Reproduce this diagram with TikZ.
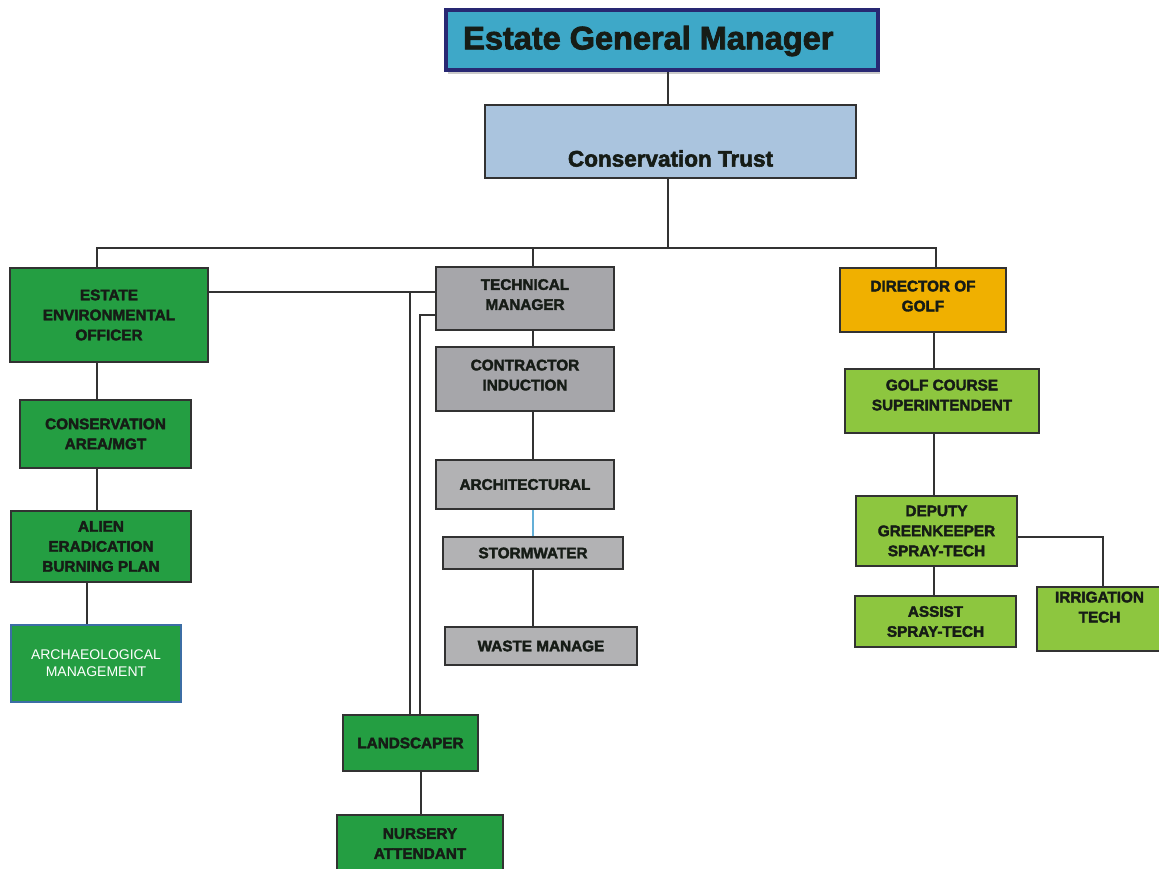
\documentclass[tikz,border=0pt]{standalone}
\usepackage{fontspec}
\setmainfont{Liberation Sans}
\newfontfamily\heavyfont{Liberation Sans}[UprightFont={* Bold}, FakeBold=2.5]
\usetikzlibrary{shadows}
\definecolor{dkgreen}{RGB}{36,158,66}
\definecolor{ltgreen}{RGB}{141,198,63}
\definecolor{midgray}{RGB}{166,166,170}
\definecolor{ltgray}{RGB}{178,178,180}
\definecolor{golfor}{RGB}{240,176,0}
\definecolor{egmfill}{RGB}{62,168,200}
\definecolor{egmline}{RGB}{40,40,115}
\definecolor{ctfill}{RGB}{170,196,222}
\definecolor{edge}{RGB}{50,50,50}
\definecolor{txt}{RGB}{22,28,22}
\definecolor{archline}{RGB}{60,110,165}
\definecolor{skyline}{RGB}{100,175,215}
\newcommand\orgbox[7]{\node[#6, minimum width={#4-#2}, minimum height={#5-#3}] (#1) at ({(#2+#4)/2},{(#3+#5)/2}) {#7};}
\begin{document}
\begin{tikzpicture}[x=1pt,y=-1pt,
  base/.style={draw=edge, line width=1.6pt, inner sep=0pt, align=center, text=txt,
    font=\heavyfont\fontsize{15.3}{20}\selectfont},
  dg/.style={base, fill=dkgreen},
  lg/.style={base, fill=ltgreen},
  gr/.style={base, fill=midgray},
  lgr/.style={base, fill=ltgray},
  conn/.style={draw=edge, line width=1.8pt}]
\useasboundingbox (0,0) rectangle (1159,868);
% top
\node[draw=egmline, line width=4pt, fill=egmfill, inner sep=0pt,
  minimum width=432, minimum height=60,
  drop shadow={shadow xshift=2pt, shadow yshift=-4pt, fill=black!35, opacity=0.6}]
  (egm) at (662,40) {};
\node[font=\heavyfont\fontsize{32.5}{36}\selectfont, text=txt, anchor=west, inner sep=0pt] (egmt) at (463,41) {Estate General Manager};
\orgbox{ct}{485}{105}{856}{178}{base, fill=ctfill, label={[font=\heavyfont\fontsize{22.5}{26}\selectfont, text=txt, yshift=-17pt]center:Conservation Trust}}{}
% left column
\orgbox{eeo}{10}{268}{208}{362}{dg}{ESTATE\\ENVIRONMENTAL\\OFFICER}
\orgbox{cam}{20}{400}{191}{468}{dg}{CONSERVATION\\AREA/MGT}
\orgbox{aeb}{11}{511}{191}{582}{dg}{ALIEN\\ERADICATION\\BURNING PLAN}
\orgbox{archm}{11}{625}{181}{702}{base, draw=archline, line width=2.5pt, fill=dkgreen, text=white, font=\fontsize{14}{17}\selectfont}{ARCHAEOLOGICAL\\MANAGEMENT}
% middle column
\orgbox{tm}{436}{267}{614}{330}{gr}{TECHNICAL\\MANAGER\\[-12pt]}
\orgbox{ci}{436}{347}{614}{411}{gr}{CONTRACTOR\\INDUCTION\\[-12pt]}
\orgbox{arch}{436}{460}{614}{509}{lgr}{ARCHITECTURAL}
\orgbox{storm}{443}{537}{623}{569}{lgr}{STORMWATER}
\orgbox{waste}{445}{627}{637}{665}{lgr}{WASTE MANAGE}
\orgbox{land}{343}{715}{478}{771}{dg}{LANDSCAPER}
\orgbox{nurs}{337}{815}{503}{872}{dg}{NURSERY\\ATTENDANT}
% right column
\orgbox{dog}{840}{268}{1006}{332}{base, fill=golfor}{DIRECTOR OF\\GOLF\\[-12pt]}
\orgbox{gcs}{845}{369}{1039}{433}{lg}{GOLF COURSE\\SUPERINTENDENT\\[-8pt]}
\orgbox{dep}{856}{496}{1017}{566}{lg}{DEPUTY\\GREENKEEPER\\SPRAY-TECH}
\orgbox{assist}{855}{596}{1016}{647}{lg}{ASSIST\\SPRAY-TECH}
\orgbox{irr}{1037}{587}{1162}{651}{lg}{IRRIGATION\\TECH\\[4pt]}
% helper coordinates
\coordinate (busL) at (97,248);
\coordinate (busM) at (533,248);
\coordinate (busR) at (936,248);
\coordinate (busC) at (668,248);
\coordinate (linkA) at (410,292);
\coordinate (linkB) at (420,315);
\coordinate (colL) at (97,0);
\coordinate (colL2) at (87,0);
\coordinate (colM) at (533,0);
\coordinate (colR) at (934,0);
\coordinate (colN) at (421,0);
\coordinate (irrTurn) at (1103,537);
% connectors
\draw[conn] (egm.south -| busC) -- (ct.north -| busC);
\draw[conn] (ct.south -| busC) -- (busC);
\draw[conn] (eeo.north -| busL) -- (busL) -- (busR) -- (dog.north -| busR);
\draw[conn] (busM) -- (tm.north -| busM);
\draw[conn] (eeo.east |- linkA) -- (tm.west |- linkA);
\draw[conn] (linkA) -- (land.north -| linkA);
\draw[conn] (tm.west |- linkB) -- (linkB) -- (land.north -| linkB);
\draw[conn] (tm.south -| colM) -- (ci.north -| colM);
\draw[conn] (ci.south -| colM) -- (arch.north -| colM);
\draw[draw=skyline, line width=1.4pt] (arch.south -| colM) -- (storm.north -| colM);
\draw[conn] (storm.south -| colM) -- (waste.north -| colM);
\draw[conn] (land.south -| colN) -- (nurs.north -| colN);
\draw[conn] (eeo.south -| colL) -- (cam.north -| colL);
\draw[conn] (cam.south -| colL) -- (aeb.north -| colL);
\draw[conn] (aeb.south -| colL2) -- (archm.north -| colL2);
\draw[conn] (dog.south -| colR) -- (gcs.north -| colR);
\draw[conn] (gcs.south -| colR) -- (dep.north -| colR);
\draw[conn] (dep.south -| colR) -- (assist.north -| colR);
\draw[conn] (dep.east |- irrTurn) -- (irrTurn) -- (irr.north -| irrTurn);
\end{tikzpicture}
\end{document}
